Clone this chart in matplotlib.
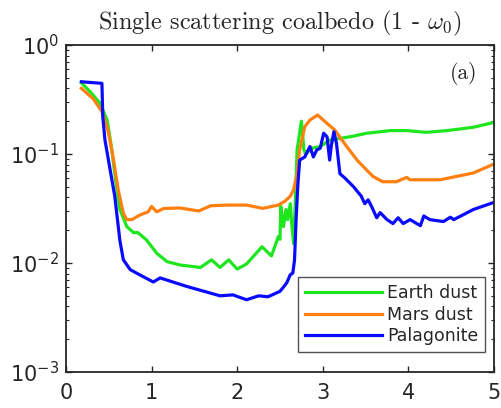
import math
import matplotlib
matplotlib.use("Agg")
import matplotlib.pyplot as plt
from matplotlib.ticker import FixedLocator, FuncFormatter, LogLocator, NullFormatter

# Wavelength (um) and single scattering coalbedo for each material
earth_x = [0.18, 0.30, 0.40, 0.48, 0.53, 0.59, 0.63, 0.71, 0.79, 0.84, 0.94, 1.06, 1.18,
           1.33, 1.57, 1.70, 1.80, 1.90, 2.00, 2.11, 2.29, 2.40, 2.48, 2.50, 2.51, 2.54,
           2.57, 2.59, 2.62, 2.64, 2.66, 2.68, 2.70, 2.75, 2.78, 2.80, 2.87, 2.97, 3.08,
           3.20, 3.36, 3.51, 3.79, 3.98, 4.21, 4.45, 4.76, 5.00]
earth_y = [0.45, 0.36, 0.29, 0.205, 0.117, 0.050, 0.031, 0.0216, 0.019, 0.019, 0.0163,
           0.0123, 0.0103, 0.0096, 0.0091, 0.0107, 0.0091, 0.0107, 0.0088, 0.0098, 0.0141,
           0.0116, 0.0174, 0.0165, 0.033, 0.0216, 0.031, 0.025, 0.035, 0.0216, 0.015,
           0.038, 0.109, 0.20, 0.109, 0.100, 0.113, 0.117, 0.134, 0.139, 0.146, 0.155,
           0.164, 0.164, 0.158, 0.164, 0.176, 0.195]

mars_x = [0.18, 0.32, 0.42, 0.49, 0.55, 0.61, 0.67, 0.71, 0.77, 0.86, 0.96, 1.00, 1.06,
          1.14, 1.33, 1.55, 1.69, 1.88, 2.11, 2.30, 2.48, 2.56, 2.62, 2.66, 2.70, 2.73,
          2.79, 2.85, 2.94, 3.02, 3.14, 3.28, 3.40, 3.53, 3.59, 3.70, 3.86, 3.98, 4.02,
          4.37, 4.76, 5.00]
mars_y = [0.40, 0.32, 0.245, 0.166, 0.094, 0.047, 0.0286, 0.025, 0.025, 0.0275, 0.0295,
          0.033, 0.0295, 0.0316, 0.032, 0.030, 0.0335, 0.034, 0.034, 0.0317, 0.034, 0.037,
          0.041, 0.047, 0.066, 0.109, 0.178, 0.205, 0.228, 0.20, 0.166, 0.117, 0.088,
          0.069, 0.062, 0.0557, 0.0557, 0.061, 0.058, 0.058, 0.067, 0.081]

palag_x = [0.18, 0.42, 0.43, 0.455, 0.51, 0.57, 0.63, 0.67, 0.75, 0.86, 1.02, 1.10, 1.41,
           1.80, 1.95, 2.11, 2.25, 2.36, 2.50, 2.54, 2.58, 2.62, 2.65, 2.67, 2.69, 2.71,
           2.73, 2.79, 2.83, 2.85, 2.89, 2.93, 2.97, 3.01, 3.05, 3.08, 3.10, 3.13, 3.16,
           3.20, 3.26, 3.36, 3.45, 3.49, 3.53, 3.57, 3.63, 3.67, 3.75, 3.82, 3.88, 3.94,
           4.02, 4.14, 4.18, 4.25, 4.41, 4.49, 4.53, 4.76, 5.00]
palag_y = [0.46, 0.445, 0.22, 0.135, 0.076, 0.041, 0.016, 0.0107, 0.0087, 0.0078, 0.0067,
           0.0073, 0.0061, 0.0050, 0.0051, 0.0046, 0.0050, 0.0049, 0.0055, 0.0060, 0.0066,
           0.0078, 0.0081, 0.0107, 0.027, 0.054, 0.088, 0.094, 0.109, 0.117, 0.094, 0.109,
           0.113, 0.155, 0.144, 0.088, 0.120, 0.160, 0.125, 0.066, 0.060, 0.050, 0.041,
           0.035, 0.038, 0.033, 0.026, 0.029, 0.025, 0.023, 0.026, 0.023, 0.025, 0.022,
           0.027, 0.025, 0.024, 0.0263, 0.025, 0.031, 0.036]

series = [
    ("Earth dust", earth_x, earth_y, "#1ee61e"),
    ("Mars dust", mars_x, mars_y, "#ff8010"),
    ("Palagonite", palag_x, palag_y, "#0a0aff"),
]

x_ticks = [0, 1, 2, 3, 4, 5]
y_ticks = [1e-3, 1e-2, 1e-1, 1e0]

edge = "#262626"
plt.rcParams["font.family"] = "DejaVu Sans"
plt.rcParams["mathtext.fontset"] = "dejavusans"

fig = plt.figure(figsize=(5.01, 4.08), dpi=100)
ax = fig.add_axes([0.1317, 0.0882, 0.8543, 0.8015])

for label, xs, ys, color in series:
    ax.plot(xs, ys, color=color, lw=2.3, label=label, solid_joinstyle="round")

ax.set_yscale("log")
ax.set_xlim(0, 5)
ax.set_ylim(1e-3, 1e0)
ax.xaxis.set_major_locator(FixedLocator(x_ticks))
ax.yaxis.set_major_locator(FixedLocator(y_ticks))
ax.yaxis.set_minor_locator(LogLocator(base=10, subs=range(2, 10)))
ax.yaxis.set_minor_formatter(NullFormatter())


def pow_label(v, pos):
    return r"$10^{%d}$" % int(round(math.log10(v)))


ax.yaxis.set_major_formatter(FuncFormatter(pow_label))

ax.tick_params(which="both", direction="in", top=True, right=True, colors=edge,
               labelcolor=edge, labelsize=15)
ax.tick_params(which="major", length=4.5, width=1.0)
ax.tick_params(which="minor", length=2.5, width=0.8)
ax.tick_params(axis="x", pad=8)
ax.tick_params(axis="y", pad=5)
for sp in ax.spines.values():
    sp.set_linewidth(1.3)
    sp.set_color(edge)

ax.set_title(r"Single scattering coalbedo (1 - $\omega_0$)", family="cmr10",
             math_fontfamily="cm", fontsize=17.5, color=edge, pad=11)
ax.text(0.928, 0.914, "(a)", transform=ax.transAxes, family="cmr10", fontsize=15.5,
        ha="center", va="center", color=edge)

leg = ax.legend(loc="lower right", bbox_to_anchor=(0.979, 0.061), borderaxespad=0,
                fontsize=12.5, frameon=True, fancybox=False, handlelength=4.4,
                handletextpad=0.3, labelspacing=0.2, borderpad=0.4)
leg.get_frame().set_edgecolor(edge)
leg.get_frame().set_linewidth(1.0)
for t in leg.get_texts():
    t.set_color(edge)

fig.savefig("out.png", dpi=100)
